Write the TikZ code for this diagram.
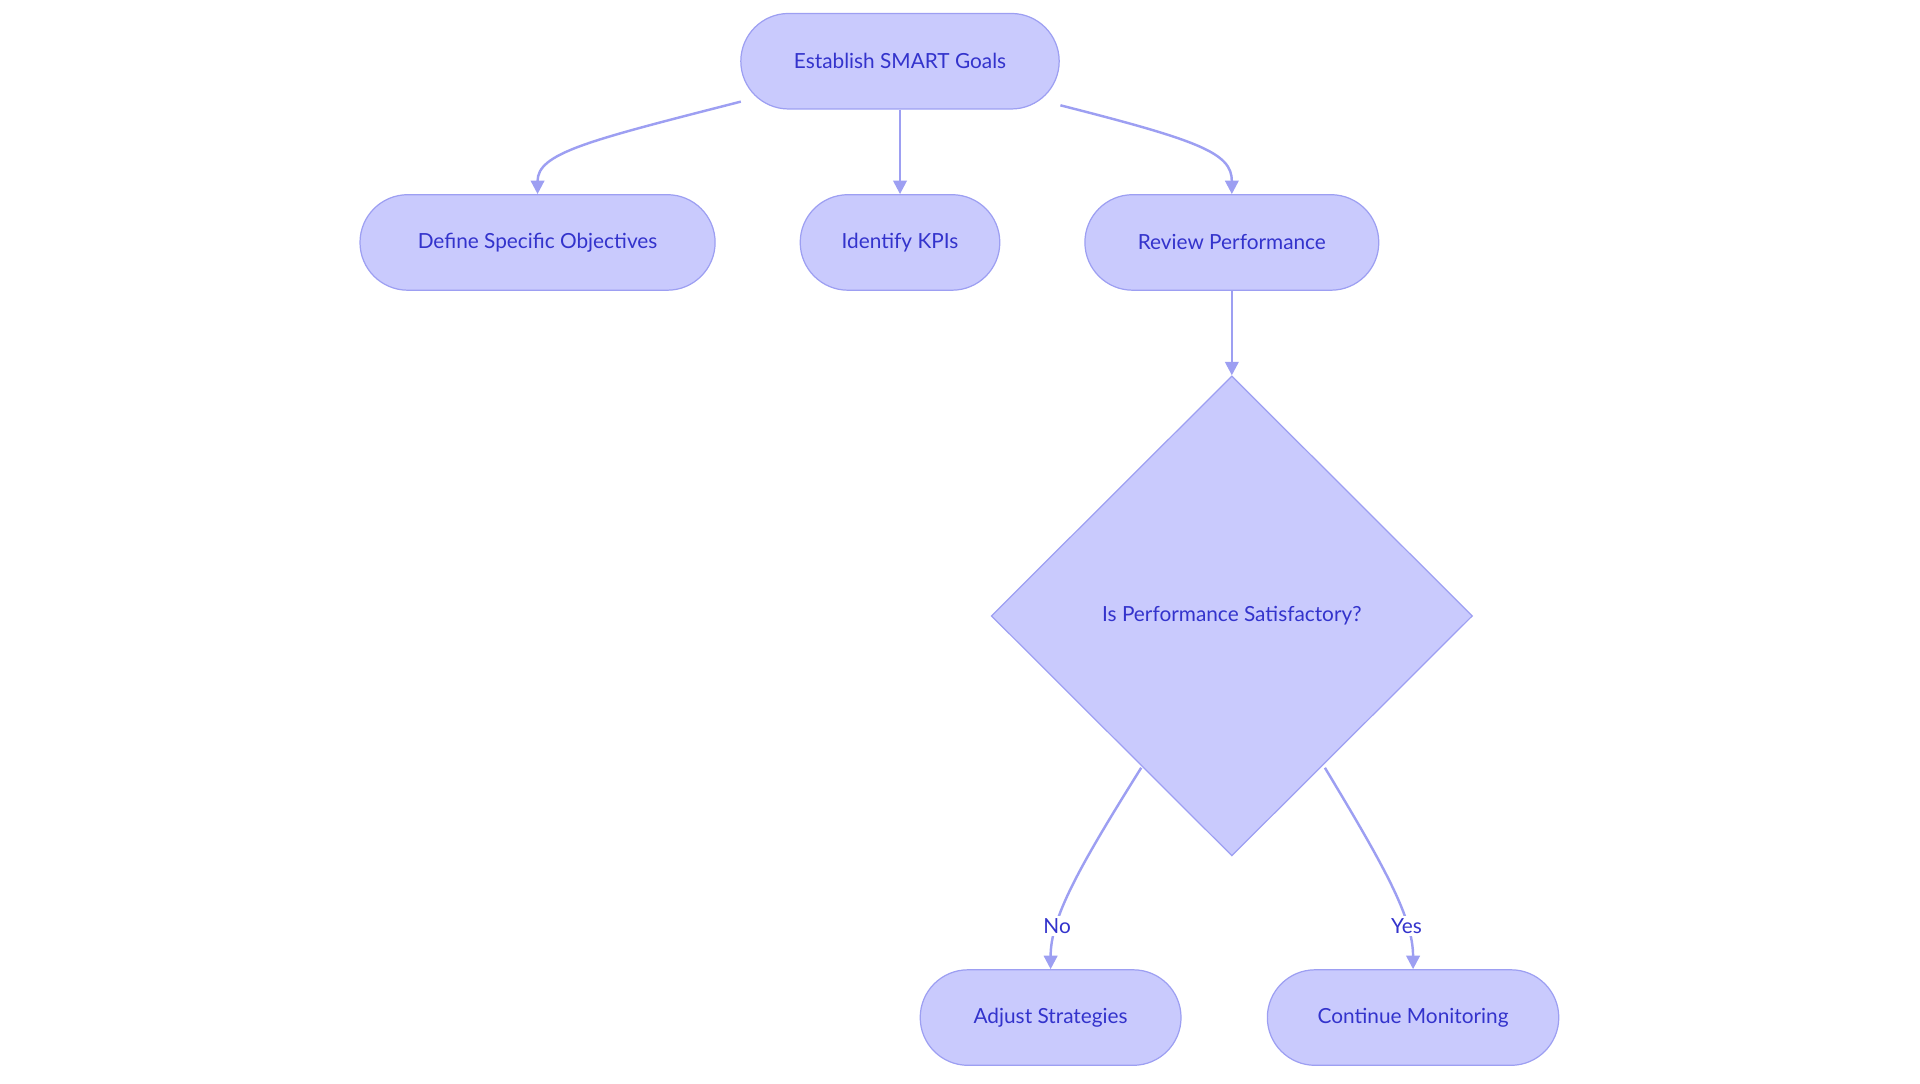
\documentclass[tikz,border=0pt]{standalone}
\usepackage{fontspec}
\setmainfont{Lato}
\usetikzlibrary{shapes.geometric,shapes.misc,arrows.meta}
\definecolor{nfill}{HTML}{C9CAFD}
\definecolor{nline}{HTML}{9D9FF2}
\definecolor{ntext}{HTML}{3333CC}
\begin{document}
\begin{tikzpicture}[x=1pt,y=-1pt,
  box/.style={rounded rectangle, draw=nline, fill=nfill, line width=1pt, minimum height=78pt, text=ntext, font=\fontsize{17}{20}\selectfont, inner xsep=0pt},
  dia/.style={diamond, draw=nline, fill=nfill, line width=1pt, minimum width=393pt, minimum height=392pt, inner sep=0pt, text=ntext, font=\fontsize{17}{20}\selectfont},
  arr/.style={draw=nline, line width=2pt, -{Triangle[length=11pt,width=11pt]}},
  lab/.style={fill=white, text=ntext, font=\fontsize{17}{20}\selectfont, inner sep=2pt}]
\useasboundingbox (0,0) rectangle (1568,885);
\node[box, minimum width=260pt] (a) at (735,50) {Establish SMART Goals};
\node[box, minimum width=290pt] (b) at (439,198) {Define Specific Objectives};
\node[box, minimum width=163pt] (c) at (735,198) {Identify KPIs};
\node[box, minimum width=240pt] (d) at (1006,198) {Review Performance};
\node[dia] (e) at (1006,503) {Is Performance Satisfactory?};
\node[box, minimum width=213pt] (f) at (858,831) {Adjust Strategies};
\node[box, minimum width=238pt] (g) at (1154,831) {Continue Monitoring};
\coordinate (a1) at (605,83);
\coordinate (a2) at (866,86);
\coordinate (e1) at (932,627);
\coordinate (e2) at (1082,627);
\draw[arr] (a1) .. controls (480,115) and (439,125) .. (b.north);
\draw[arr] (a.south) -- (c.north);
\draw[arr] (a2) .. controls (980,115) and (1006,125) .. (d.north);
\draw[arr] (d.south) -- (e.north);
\draw[arr] (e1) .. controls (880,710) and (858,750) .. (f.north) node[lab, pos=0.72] {No};
\draw[arr] (e2) .. controls (1132,710) and (1154,750) .. (g.north) node[lab, pos=0.72] {Yes};
\end{tikzpicture}
\end{document}
